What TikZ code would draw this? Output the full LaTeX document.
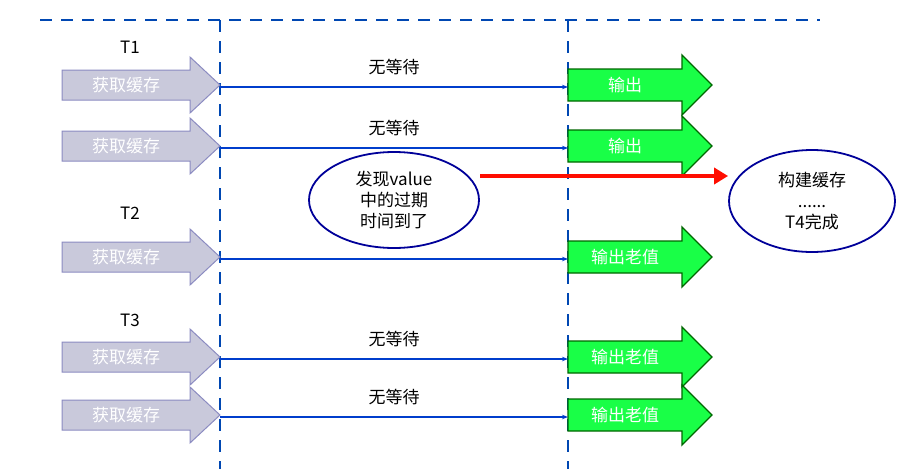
\documentclass[tikz,border=0pt]{standalone}
\usepackage{fontspec}
\setmainfont{Noto Sans CJK SC}
\usetikzlibrary{arrows.meta}
\tikzset{
 vdash/.style={draw=blue!60!cyan!70!black, line width=2.5pt, dash pattern=on 12pt off 9pt},
 getarr/.style={fill=blue!20!gray!35, draw=blue!30!gray!70, line width=1pt},
 outarr/.style={fill=green!80!cyan!90, draw=green!40!black, line width=1.3pt},
 lbl/.style={font=\fontsize{17}{19}\selectfont, text=white},
 flow/.style={draw=blue!70!cyan!80!black, line width=1.2pt, -{Stealth[length=6pt]}},
 wait/.style={font=\fontsize{17}{19}\selectfont},
 ell/.style={ellipse, draw=blue!60!black, line width=1.8pt, align=center, font=\fontsize{17}{21}\selectfont, inner sep=0pt},
}
\usetikzlibrary{shapes.geometric}
\begin{document}
\begin{tikzpicture}[x=1pt,y=-1pt]
\useasboundingbox (0,0) rectangle (920,469);
\draw[vdash] (40,20) -- (820,20);
\draw[vdash] (220,20) -- (220,469);
\draw[vdash] (568,20) -- (568,469);
\node[wait] (t1) at (130,47) {T1};
\node[wait] (t2) at (130,213) {T2};
\node[wait] (t3) at (130,320) {T3};
\foreach \y/\o/\w [count=\i] in {85/输出/1,146/输出/1,257/输出老值/0,357/输出老值/1,415/输出老值/1}{
  \draw[getarr] (62,\y-15) -- (190,\y-15) -- (190,\y-28) -- (220,\y) -- (190,\y+28) -- (190,\y+15) -- (62,\y+15) -- cycle;
  \node[lbl] (g\i) at (126,\y) {获取缓存};
  \coordinate (s\i) at (220,\y+2);
  \draw[outarr] (568,\y-16) -- (682,\y-16) -- (682,\y-30) -- (712,\y) -- (682,\y+30) -- (682,\y+16) -- (568,\y+16) -- cycle;
  \node[lbl] (o\i) at (625,\y) {\o};
  \coordinate (e\i) at (568,\y+2);
  \draw[flow] (s\i) -- (e\i);
  \ifnum\w=1 \node[wait] at (394,\y-18) {无等待};\fi
}
\node[ell, minimum width=170pt, minimum height=96pt, fill=white] (find) at (394,200) {发现value\\中的过期\\时间到了};
\node[ell, minimum width=166pt, minimum height=102pt] (build) at (812,201) {构建缓存\\......\\T4完成};
\coordinate (r0) at (480,176);
\draw[red!90!orange, line width=4pt, -{Triangle[length=14pt,width=16pt]}] (r0) -- (build.west |- r0);
\end{tikzpicture}
\end{document}
